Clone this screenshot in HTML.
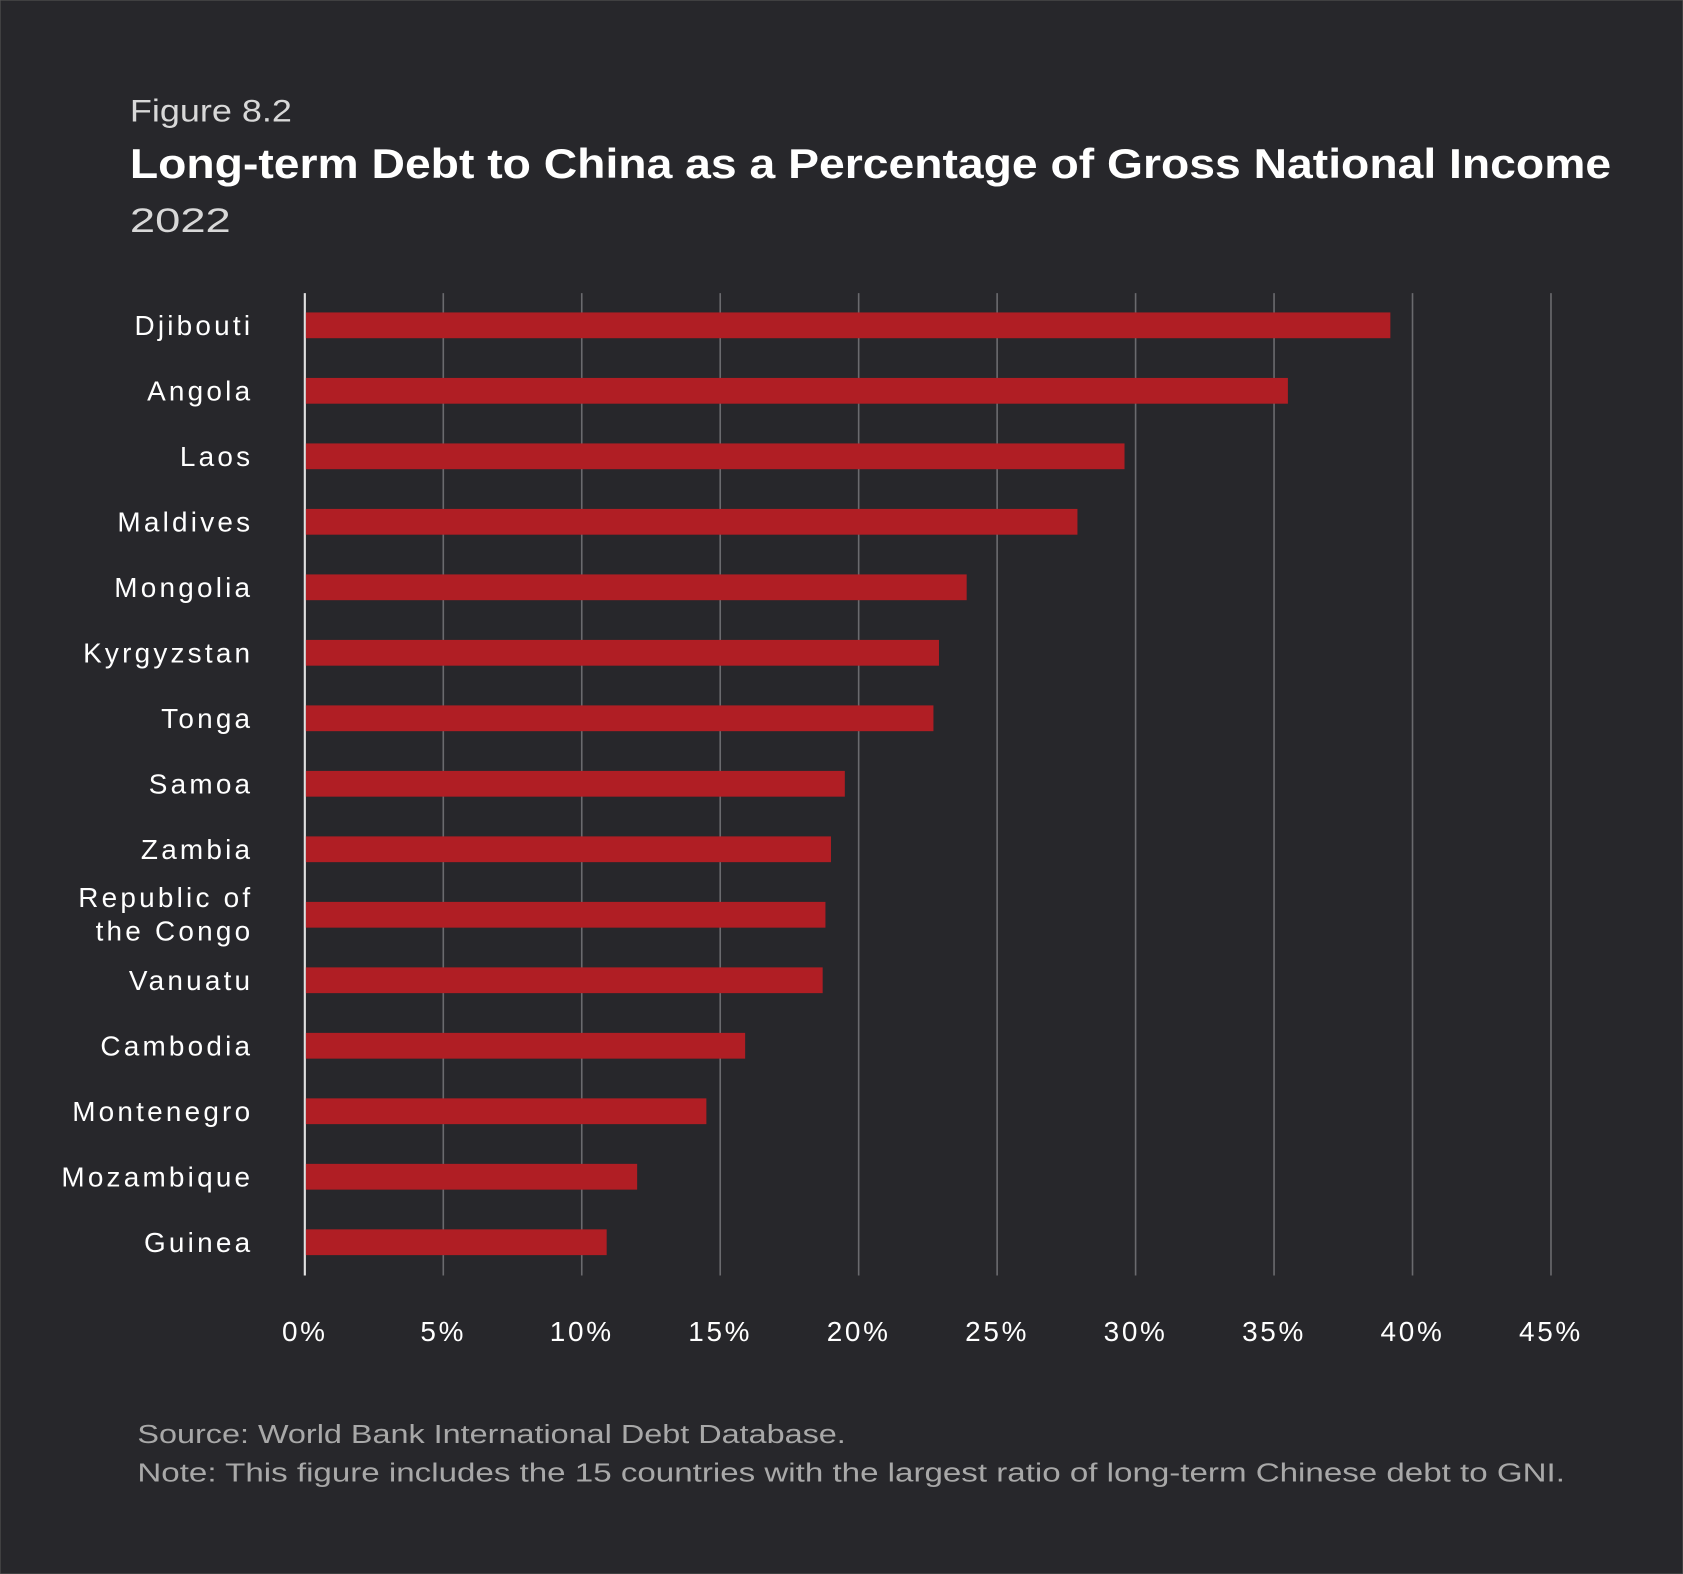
<!DOCTYPE html>
<html><head><meta charset="utf-8"><style>
html,body{margin:0;padding:0;background:#27272b;}
svg{display:block;font-family:"Liberation Sans",sans-serif;}
</style></head><body>
<svg id="chart" width="1683" height="1574" viewBox="0 0 1568 1466" preserveAspectRatio="none" xmlns="http://www.w3.org/2000/svg">
<rect x="0" y="0" width="1568" height="1466" fill="#27272b" stroke="#555" stroke-width="1"/>
<text x="121" y="113" fill="#d8d8d8" font-size="29" font-weight="300" textLength="151" lengthAdjust="spacingAndGlyphs">Figure 8.2</text>
<text x="121" y="166" fill="#ffffff" font-size="39" font-weight="bold" textLength="1380" lengthAdjust="spacingAndGlyphs">Long-term Debt to China as a Percentage of Gross National Income</text>
<text x="121" y="216" fill="#d8d8d8" font-size="32" font-weight="300" textLength="94" lengthAdjust="spacingAndGlyphs">2022</text>
<g id="grid"></g>
<g id="bars"></g>
<g id="ylabels"></g>
<g id="xlabels"></g>
<text x="128" y="1344" fill="#a8a8a8" font-size="24" font-weight="300" textLength="660" lengthAdjust="spacingAndGlyphs">Source: World Bank International Debt Database.</text>
<text x="128" y="1380" fill="#a8a8a8" font-size="24" font-weight="300" textLength="1330" lengthAdjust="spacingAndGlyphs">Note: This figure includes the 15 countries with the largest ratio of long-term Chinese debt to GNI.</text>
</svg>
<script>
const countries = ["Djibouti","Angola","Laos","Maldives","Mongolia","Kyrgyzstan","Tonga","Samoa","Zambia","Republic of the Congo","Vanuatu","Cambodia","Montenegro","Mozambique","Guinea"];
const values = [39.2,35.5,29.6,27.9,23.9,22.9,22.7,19.5,19.0,18.8,18.7,15.9,14.5,12.0,10.9];
const ticks = [0,5,10,15,20,25,30,35,40,45];
const tickLabels = ["0%","5%","10%","15%","20%","25%","30%","35%","40%","45%"];

const NS="http://www.w3.org/2000/svg";
const x0=284, x1=1445, y0=303, step=61;
const xs = v => x0 + (v/45)*(x1-x0);
const ys = i => y0 + i*step;
function mk(t,a){const e=document.createElementNS(NS,t);for(const k in a)e.setAttribute(k,a[k]);return e;}
const grid=document.getElementById('grid'), bars=document.getElementById('bars'), yl=document.getElementById('ylabels'), xl=document.getElementById('xlabels');
ticks.forEach((t,i)=>{
  const l=mk('line',{x1:xs(t),x2:xs(t),y1:273,y2:1188,stroke:t===0?'#e0e0e0':'#6a6a6e','stroke-width':t===0?2:1.5});
  
  
  grid.appendChild(l);
  const tx=mk('text',{x:xs(t),y:1249,fill:'#ffffff','font-size':26,'text-anchor':'middle','letter-spacing':'2.5'});
  tx.textContent=tickLabels[i];
  
  
  xl.appendChild(tx);
});
countries.forEach((c,i)=>{
  const r=mk('rect',{x:x0+1,y:ys(i)-12,width:xs(values[i])-x0-1,height:24,fill:'#b01e24'});
  
  
  bars.appendChild(r);
  const tx=mk('text',{x:236,fill:'#ffffff','font-size':26,'text-anchor':'end','letter-spacing':'3'});
  if(c==="Republic of the Congo"){
    const a=mk('tspan',{x:236,y:ys(i)-7});a.textContent="Republic of";
    const b=mk('tspan',{x:236,y:ys(i)+24});b.textContent="the Congo";
    tx.appendChild(a);tx.appendChild(b);
  } else {tx.setAttribute('y',ys(i)+9);tx.textContent=c;}
  
  
  yl.appendChild(tx);
});
</script>
</body></html>
